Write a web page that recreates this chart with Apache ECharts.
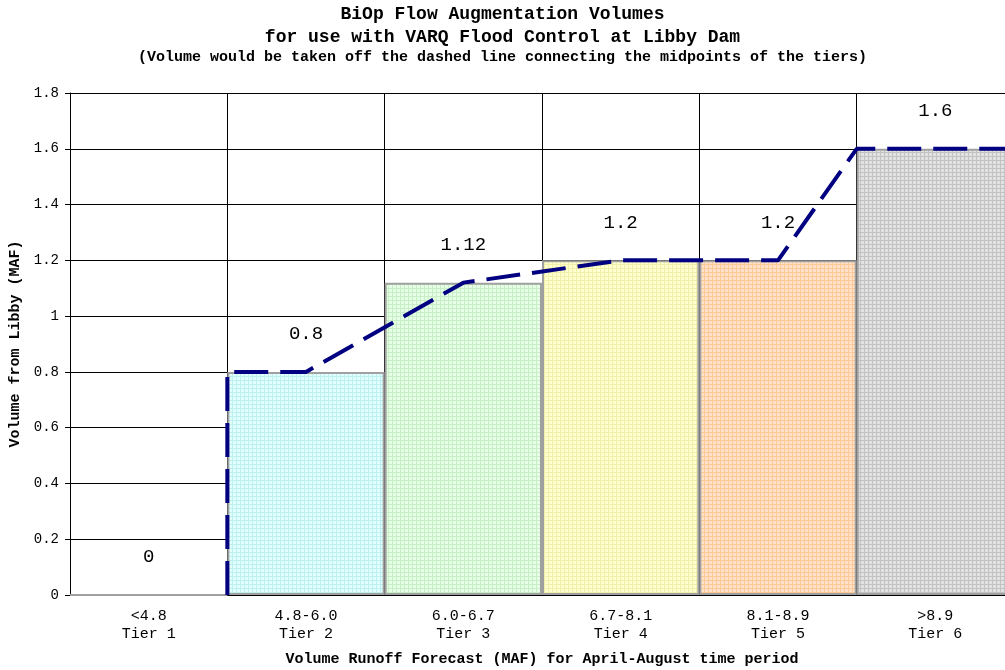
<!DOCTYPE html>
<html>
<head>
<meta charset="utf-8">
<script src="https://cdn.jsdelivr.net/npm/echarts@6/dist/echarts.min.js"></script>
<style>
  html, body { margin: 0; padding: 0; background: #fff; }
  #chart { width: 1005px; height: 670px; }
</style>
</head>
<body>
<div id="chart"></div>
<script>
// data
const tiers = ['<4.8\nTier 1', '4.8-6.0\nTier 2', '6.0-6.7\nTier 3', '6.7-8.1\nTier 4', '8.1-8.9\nTier 5', '>8.9\nTier 6']
const volumes = [0, 0.8, 1.12, 1.2, 1.2, 1.6]
// dashed line through the tier midpoints, x in tier units (0..6)
const lineX = [1, 1, 1.5, 2.5, 3.5, 4.5, 5, 6]
const lineY = [0, 0.8, 0.8, 1.12, 1.2, 1.2, 1.6, 1.6]

const fills = [
    ['#ffffff', '#ffffff'],
    ['#e2ffff', '#bff0f0'],
    ['#e6ffe6', '#c6efc6'],
    ['#ffffd2', '#f0f0a6'],
    ['#ffe2c8', '#ffc898'],
    ['#e2e2e2', '#c2c2c2']
]

function hatch(bg, fg) {
    const c = document.createElement('canvas')
    c.width = 4
    c.height = 4
    const ctx = c.getContext('2d')
    ctx.fillStyle = bg
    ctx.fillRect(0, 0, 4, 4)
    ctx.fillStyle = fg
    ctx.fillRect(0, 0, 4, 1)
    ctx.fillRect(0, 0, 1, 4)
    return { image: c, repeat: 'repeat' }
}

const font = "'Liberation Mono', 'DejaVu Sans Mono', monospace"
const myChart = echarts.init(document.getElementById('chart'))

myChart.setOption({
    animation: false,
    title: [
        {
            text: 'BiOp Flow Augmentation Volumes',
            left: 'center',
            top: 0,
            textStyle: { fontFamily: font, fontSize: 18, fontWeight: 'bold', color: '#000' }
        },
        {
            text: 'for use with VARQ Flood Control at Libby Dam',
            left: 'center',
            top: 23,
            textStyle: { fontFamily: font, fontSize: 18, fontWeight: 'bold', color: '#000' }
        },
        {
            text: '(Volume would be taken off the dashed line connecting the midpoints of the tiers)',
            left: 'center',
            top: 45,
            textStyle: { fontFamily: font, fontSize: 15, fontWeight: 'bold', color: '#000' }
        }
    ],
    grid: {
        left: 70,
        top: 93,
        right: -9,
        bottom: 75,
        containLabel: false,
        outerBoundsMode: 'none'
    },
    xAxis: [
        {
            type: 'category',
            data: tiers,
            boundaryGap: true,
            name: 'Volume Runoff Forecast (MAF) for April-August time period',
            nameLocation: 'middle',
            nameGap: 57,
            nameTextStyle: { fontFamily: font, fontSize: 15, fontWeight: 'bold', color: '#000' },
            axisLine: { show: true, lineStyle: { color: '#000', width: 1 } },
            axisTick: { show: false },
            axisLabel: {
                fontFamily: font,
                fontSize: 15,
                lineHeight: 18,
                color: '#000',
                margin: 12,
                interval: 0
            },
            splitLine: { show: true, interval: 0, lineStyle: { color: '#000', width: 1 } }
        },
        {
            type: 'value',
            min: 0,
            max: 6,
            show: false
        }
    ],
    yAxis: {
        type: 'value',
        min: 0,
        max: 1.8,
        interval: 0.2,
        name: 'Volume from Libby (MAF)',
        nameLocation: 'middle',
        nameGap: 46,
        nameTextStyle: { fontFamily: font, fontSize: 15, fontWeight: 'bold', color: '#000' },
        axisLine: { show: true, lineStyle: { color: '#000', width: 1 } },
        axisTick: { show: true, length: 5, lineStyle: { color: '#000' } },
        axisLabel: {
            fontFamily: font,
            fontSize: 14,
            color: '#000',
            margin: 11,
            formatter: v => String(Math.round(v * 10) / 10)
        },
        splitLine: { show: true, lineStyle: { color: '#000', width: 1 } }
    },
    series: [
        {
            name: 'Volume',
            type: 'bar',
            barWidth: '100%',
            xAxisIndex: 0,
            data: volumes.map((v, i) => ({
                value: v,
                itemStyle: {
                    color: hatch(fills[i][0], fills[i][1]),
                    borderColor: '#a0a0a0',
                    borderWidth: 2
                }
            })),
            label: {
                show: true,
                position: 'top',
                distance: 28,
                fontFamily: font,
                fontSize: 19,
                color: '#000'
            },
            z: 2
        },
        {
            name: 'Midpoints',
            type: 'line',
            xAxisIndex: 1,
            data: lineX.map((x, i) => [x, lineY[i]]),
            showSymbol: false,
            symbol: 'none',
            clip: false,
            lineStyle: {
                color: '#000080',
                width: 4,
                type: [34, 12]
            },
            z: 5
        }
    ]
})
</script>
</body>
</html>
